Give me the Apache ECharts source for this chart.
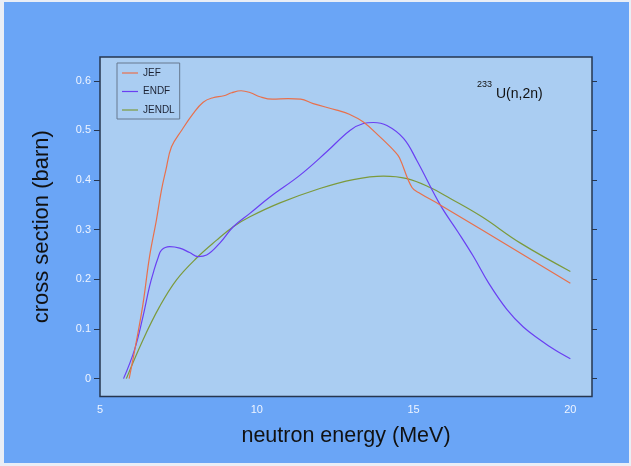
<!DOCTYPE html>
<html>
<head>
<meta charset="utf-8">
<script src="https://cdn.jsdelivr.net/npm/echarts@6/dist/echarts.min.js"></script>
<style>
html,body{margin:0;padding:0;width:631px;height:466px;background:#e9eef6;overflow:hidden;}
#bg{position:absolute;left:4px;top:2px;width:625px;height:461px;background:#6aa5f6;}
#chart{position:absolute;left:0;top:0;width:631px;height:466px;}
</style>
</head>
<body>
<div id="bg"></div>
<div id="chart"></div>
<script>
// ---- data ----
const seriesNames = ['JEF', 'ENDF', 'JENDL'];

const jefEnergy = [5.93, 6.16, 6.37, 6.58, 6.8, 6.96, 7.1, 7.28, 7.6, 7.97, 8.29, 8.6, 8.95, 9.2, 9.5, 9.8, 10.1, 10.5, 11.0, 11.4, 11.8, 12.55, 12.97, 13.4, 13.93, 14.41, 14.55, 14.95, 15.21, 15.85, 20.0];
const jefXS     = [0.0, 0.075, 0.15, 0.246, 0.32, 0.38, 0.42, 0.467, 0.50, 0.534, 0.557, 0.566, 0.570, 0.576, 0.580, 0.576, 0.568, 0.563, 0.564, 0.563, 0.554, 0.541, 0.532, 0.517, 0.487, 0.457, 0.445, 0.385, 0.373, 0.35, 0.192];

const endfEnergy = [5.75, 6.1, 6.37, 6.58, 6.74, 6.85, 6.96, 7.22, 7.54, 7.86, 8.13, 8.4, 8.82, 9.25, 9.78, 10.42, 11.38, 12.23, 12.97, 13.4, 13.72, 14.15, 14.68, 15.1, 15.85, 16.4, 16.91, 17.4, 17.98, 18.5, 19.04, 19.5, 20.0];
const endfXS     = [0.0, 0.058, 0.125, 0.186, 0.222, 0.243, 0.259, 0.266, 0.263, 0.254, 0.246, 0.249, 0.273, 0.306, 0.333, 0.366, 0.41, 0.457, 0.5, 0.514, 0.516, 0.51, 0.484, 0.44, 0.35, 0.297, 0.246, 0.192, 0.139, 0.104, 0.078, 0.058, 0.04];

const jendlEnergy = [5.84, 6.37, 6.9, 7.44, 8.08, 8.72, 9.25, 9.78, 10.74, 12.01, 13.08, 14.04, 14.79, 15.53, 16.17, 17.18, 18.41, 20.0];
const jendlXS     = [0.0, 0.078, 0.145, 0.199, 0.243, 0.279, 0.306, 0.326, 0.354, 0.383, 0.401, 0.408, 0.403, 0.385, 0.363, 0.326, 0.273, 0.216];

const xTicks = [5, 10, 15, 20];
const yTicks = [0, 0.1, 0.2, 0.3, 0.4, 0.5, 0.6];

const colors = ['#e8704c', '#6a3ff2', '#7c9a3c'];

function pairs(xs, ys) { return xs.map((x, i) => [x, ys[i]]); }

const FONT = 'Liberation Sans, Arial, Helvetica, sans-serif';
const chart = echarts.init(document.getElementById('chart'), null, {renderer: 'canvas'});

const lineSeries = [
  {name: seriesNames[0], data: pairs(jefEnergy, jefXS)},
  {name: seriesNames[1], data: pairs(endfEnergy, endfXS)},
  {name: seriesNames[2], data: pairs(jendlEnergy, jendlXS)}
].map((s, i) => ({
  name: s.name,
  type: 'line',
  data: s.data,
  showSymbol: false,
  symbol: 'none',
  smooth: 0.4,
  lineStyle: {color: colors[i], width: 1.2},
  itemStyle: {color: colors[i]},
  z: 3 - i
}));

chart.setOption({
  animation: false,
  backgroundColor: 'transparent',
  color: colors,
  grid: {
    left: 100, top: 57, width: 492, height: 339.5,
    show: true, backgroundColor: '#aacdf2',
    borderColor: '#26364f', borderWidth: 1.5
  },
  xAxis: {
    type: 'value', min: 5, max: 20.69, interval: 5,
    name: 'neutron energy (MeV)', nameLocation: 'middle', nameGap: 29,
    nameTextStyle: {color: '#111', fontSize: 21.5, fontFamily: FONT},
    axisLine: {show: false}, axisTick: {show: false}, splitLine: {show: false},
    axisLabel: {
      color: '#eef4ff', fontSize: 11, fontFamily: FONT, margin: 8,
      showMaxLabel: false,
      formatter: v => (xTicks.indexOf(v) >= 0 ? String(v) : '')
    }
  },
  yAxis: [{
    type: 'value', min: -0.036, max: 0.648,
    position: 'left',
    name: 'cross section (barn)', nameLocation: 'middle', nameGap: 47, nameRotate: 90,
    nameTextStyle: {color: '#111', fontSize: 22, fontFamily: FONT},
    axisLine: {show: false}, splitLine: {show: false},
    axisTick: {show: true, inside: false, length: 6, lineStyle: {color: '#26364f', width: 1},
      customValues: yTicks},
    axisLabel: {color: '#eef4ff', fontSize: 11, fontFamily: FONT, margin: 9,
      customValues: yTicks, formatter: v => String(Math.round(v * 10) / 10)}
  }, {
    type: 'value', min: -0.036, max: 0.648,
    position: 'right',
    axisLine: {show: false}, splitLine: {show: false},
    axisTick: {show: true, inside: false, length: 5, lineStyle: {color: '#26364f', width: 1},
      customValues: yTicks},
    axisLabel: {show: false}
  }],
  legend: {
    data: seriesNames,
    orient: 'vertical',
    left: 117, top: 63,
    padding: [5, 5, 4, 5],
    itemGap: 8.5,
    itemWidth: 16, itemHeight: 10,
    borderColor: '#66788f', borderWidth: 1,
    backgroundColor: 'transparent',
    textStyle: {color: '#1c2233', fontSize: 10, fontFamily: FONT},
    icon: 'path://M0,4.4 L16,4.4 L16,5.6 L0,5.6 Z'
  },
  graphic: [
    {type: 'text', left: 477, top: 80, style: {text: '233', fontSize: 9, fill: '#111', font: '9px ' + FONT}},
    {type: 'text', left: 496, top: 87, style: {text: 'U(n,2n)', fontSize: 14, fill: '#111', font: '14px ' + FONT}}
  ],
  series: lineSeries
});
</script>
</body>
</html>
